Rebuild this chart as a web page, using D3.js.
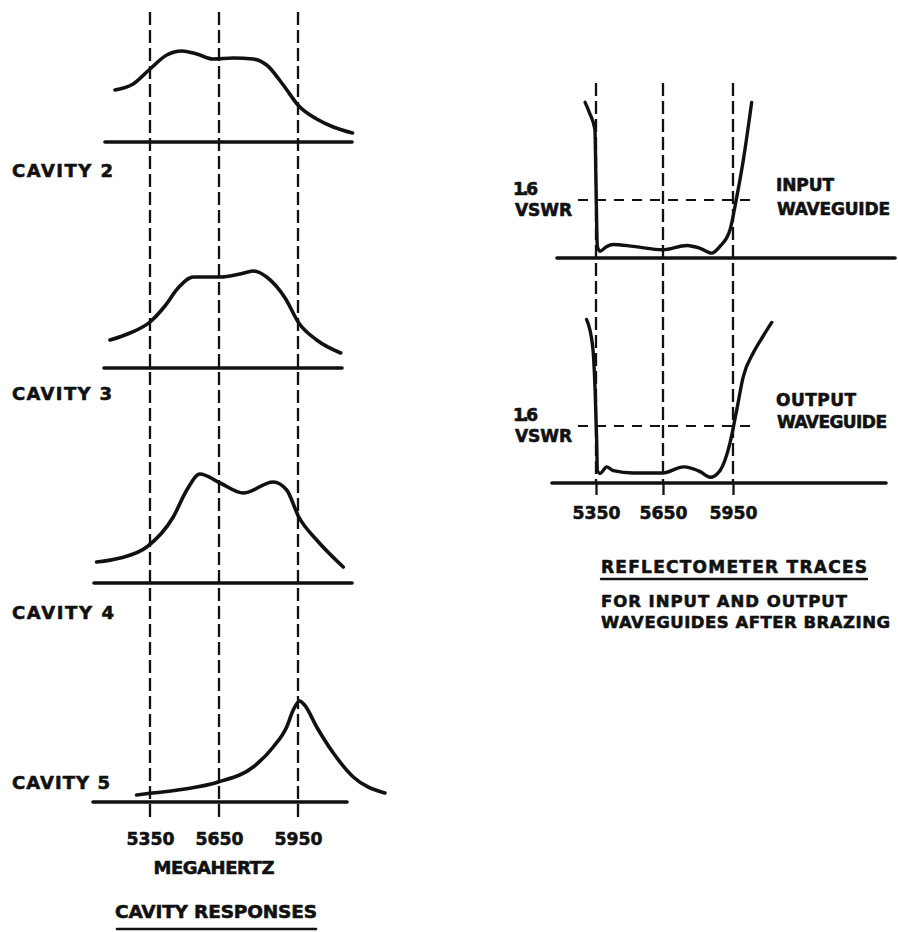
<!DOCTYPE html>
<html>
<head>
<meta charset="utf-8">
<script src="https://cdn.jsdelivr.net/npm/d3@7"></script>
<style>
  html, body { margin: 0; padding: 0; background: #fff; }
  text { font-family: "DejaVu Sans", sans-serif; font-weight: bold; fill: #111;
         stroke: #111; stroke-width: 0.6px; stroke-linejoin: round; }
</style>
</head>
<body>
<svg id="chart" width="898" height="932"></svg>
<script>
// Frequency marks, MHz
const freqTicks = [5350, 5650, 5950];

// Cavity responses: [frequency MHz, relative response]
const cavity2 = [[5198,0.52],[5277,0.58],[5350,0.73],[5423,0.87],[5488,0.91],[5553,0.88],[5625,0.83],
                 [5704,0.84],[5780,0.83],[5831,0.77],[5894,0.57],[5953,0.36],[6021,0.23],[6084,0.15],[6157,0.09]];
const cavity3 = [[5176,0.28],[5263,0.35],[5350,0.46],[5415,0.62],[5472,0.80],[5538,0.91],[5654,0.91],
                 [5730,0.94],[5780,0.97],[5831,0.91],[5901,0.70],[5953,0.45],[6021,0.28],[6112,0.15]];
const cavity4 = [[5118,0.21],[5220,0.25],[5336,0.36],[5451,0.66],[5510,0.93],[5567,1.09],[5654,1.00],
                 [5742,0.90],[5856,1.01],[5907,0.93],[5953,0.66],[6021,0.43],[6122,0.16]];
const cavity5 = [[5292,0.07],[5350,0.087],[5495,0.127],[5647,0.20],[5780,0.35],[5856,0.55],[5907,0.75],
                 [5932,0.92],[5956,1.01],[5975,0.97],[6021,0.75],[6084,0.49],[6160,0.25],[6280,0.09]];
const cavityLabels = ["CAVITY 2", "CAVITY 3", "CAVITY 4", "CAVITY 5"];

// Reflectometer traces: [frequency MHz, VSWR]
const vswrLimit = 1.6;
const inputTrace = [[5301,2.61],[5323,2.49],[5345,2.33],[5350,1.77],[5356,1.12],[5368,1.07],[5398,1.12],
                    [5427,1.14],[5517,1.12],[5649,1.085],[5752,1.13],[5809,1.10],[5859,1.05],[5894,1.12],
                    [5937,1.29],[5966,1.63],[5994,2.01],[6030,2.61]];
const outputTrace = [[5308,2.72],[5335,2.44],[5346,1.98],[5353,1.45],[5356,1.13],[5368,1.10],[5398,1.17],
                     [5427,1.13],[5517,1.106],[5649,1.106],[5738,1.17],[5809,1.12],[5852,1.06],[5894,1.13],
                     [5937,1.42],[5966,1.77],[5994,2.12],[6037,2.37],[6080,2.55],[6116,2.69]];
const traceLabels = [["INPUT", "WAVEGUIDE"], ["OUTPUT", "WAVEGUIDE"]];

const svg = d3.select("#chart");
const ink = "#111";

// text helper: x, vertical centre of capitals, fitted width
function label(g, txt, x, cy, w, size, anchor) {
  const t = g.append("text")
    .attr("x", x)
    .attr("y", cy + 0.3645 * size)
    .attr("font-size", size)
    .attr("text-anchor", anchor || "start")
    .text(txt);
  if (w) t.attr("textLength", w).attr("lengthAdjust", "spacing");
  return t;
}
function hline(g, x0, x1, y, width, dash) {
  const l = g.append("line").attr("x1", x0).attr("x2", x1).attr("y1", y).attr("y2", y)
    .attr("stroke", ink).attr("stroke-width", width).attr("stroke-linecap", "round");
  if (dash) l.attr("stroke-dasharray", dash).attr("stroke-linecap", "butt");
  return l;
}
function styleTicks(ax, yOff, size) {
  ax.select(".domain").remove();
  ax.selectAll("text")
    .attr("y", yOff + 0.3645 * size).attr("dy", null)
    .attr("font-size", size).attr("font-family", "DejaVu Sans").attr("font-weight", "bold")
    .attr("textLength", 48).attr("lengthAdjust", "spacingAndGlyphs").attr("fill", ink);
}

/* ---------------- Cavity responses ---------------- */
const left = svg.append("g");
const xL = d3.scaleLinear().domain(freqTicks).range([150, 219, 298]);

// dashed frequency markers
left.selectAll("line.mark").data(freqTicks).join("line")
  .attr("class", "mark")
  .attr("x1", d => xL(d)).attr("x2", d => xL(d))
  .attr("y1", 12).attr("y2", 820)
  .attr("stroke", ink).attr("stroke-width", 2.3)
  .attr("stroke-dasharray", "13,5");

const cavPanels = [
  { data: cavity2, base: 142, x0: 105, x1: 352, ly: 170, lw: 101 },
  { data: cavity3, base: 368, x0: 104, x1: 342, ly: 393, lw: 100 },
  { data: cavity4, base: 583, x0: 94,  x1: 352, ly: 612, lw: 102 },
  { data: cavity5, base: 802, x0: 93,  x1: 347, ly: 782, lw: 98 }
];

cavPanels.forEach((p, i) => {
  const y = d3.scaleLinear().domain([0, 1]).range([p.base, p.base - 100]);
  hline(left, p.x0, p.x1, y(0), 3.6);
  const line = d3.line().x(d => xL(d[0])).y(d => y(d[1])).curve(d3.curveMonotoneX);
  left.append("path").attr("d", line(p.data))
    .attr("fill", "none").attr("stroke", ink).attr("stroke-width", 3.6)
    .attr("stroke-linecap", "round").attr("stroke-linejoin", "round");
  label(left, cavityLabels[i], 12, p.ly, p.lw, 18);
});

// frequency axis under the last cavity
const axL = left.append("g").attr("transform", "translate(0,802)")
  .call(d3.axisBottom(xL).tickValues(freqTicks).tickSize(0).tickFormat(d3.format("d")));
styleTicks(axL, 36, 18);

label(left, "MEGAHERTZ", 214, 867.5, 121, 18, "middle");
label(left, "CAVITY RESPONSES", 216, 911, 202, 18.5, "middle");
hline(left, 117, 316, 929, 2.6);

/* ---------------- Reflectometer traces ---------------- */
const right = svg.append("g");
const xR = d3.scaleLinear().domain(freqTicks).range([596, 663, 733]);

right.selectAll("line.mark").data(freqTicks).join("line")
  .attr("class", "mark")
  .attr("x1", d => xR(d)).attr("x2", d => xR(d))
  .attr("y1", 83).attr("y2", 482)
  .attr("stroke", ink).attr("stroke-width", 2.3)
  .attr("stroke-dasharray", "13,5");

const tracePanels = [
  { data: inputTrace,  base: 258, x0: 557, x1: 895, vy: 200, t1: 185, t2: 209, tw: [58, 113] },
  { data: outputTrace, base: 483, x0: 552, x1: 886, vy: 426, t1: 400, t2: 422, tw: [80, 110] }
];

tracePanels.forEach((p, i) => {
  const y = d3.scaleLinear().domain([1, vswrLimit]).range([p.base, p.vy]);
  hline(right, p.x0, p.x1, y(1), 3.6);
  // VSWR limit line
  hline(right, 578, 750, y(vswrLimit), 2.2, "10,8");
  const line = d3.line().x(d => xR(d[0])).y(d => y(d[1])).curve(d3.curveMonotoneX);
  right.append("path").attr("d", line(p.data))
    .attr("fill", "none").attr("stroke", ink).attr("stroke-width", 3.4)
    .attr("stroke-linecap", "round").attr("stroke-linejoin", "round");
  label(right, "1.6", 513, y(vswrLimit) - 11, 25, 17);
  label(right, "VSWR", 515, y(vswrLimit) + 10, 57, 17);
  label(right, traceLabels[i][0], 776, p.t1, p.tw[0], 17);
  label(right, traceLabels[i][1], 777, p.t2, p.tw[1], 17);
});

const axR = right.append("g").attr("transform", "translate(0,483)")
  .call(d3.axisBottom(xR).tickValues(freqTicks).tickSize(12).tickFormat(d3.format("d")));
axR.selectAll(".tick line").attr("stroke", ink).attr("stroke-width", 2.3);
styleTicks(axR, 29, 18);

label(right, "REFLECTOMETER TRACES", 601, 567, 266, 17);
hline(right, 601, 867, 579, 2.4);
label(right, "FOR INPUT AND OUTPUT", 601, 601, 246, 16.5);
label(right, "WAVEGUIDES AFTER BRAZING", 601, 622, 289, 16.5);
</script>
</body>
</html>
